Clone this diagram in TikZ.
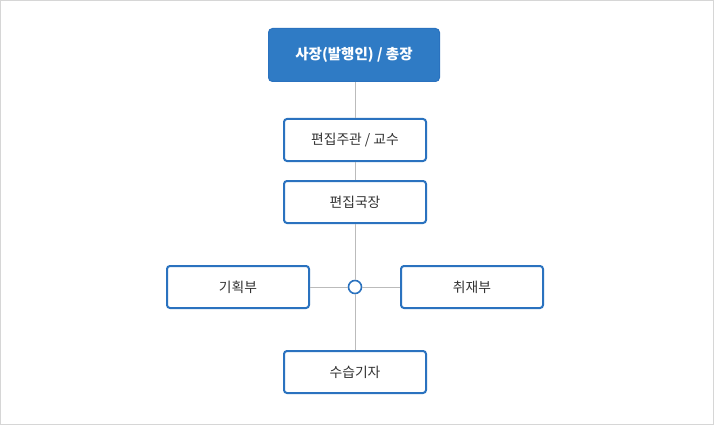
\documentclass[tikz,border=0pt]{standalone}
\usepackage{fontspec}
\setmainfont{Noto Sans CJK KR}
\usetikzlibrary{
  positioning,
  calc,
}
\definecolor{border}{HTML}{2A72BF}
\definecolor{fillTop}{HTML}{2F7BC5}
\definecolor{textMain}{HTML}{333333}
\definecolor{lineCol}{HTML}{BBBBBB}
\definecolor{frameCol}{HTML}{D6D6D6}
\tikzset{
  topbox/.style={
    rectangle, rounded corners=4pt, draw=border, fill=fillTop,
    minimum width=171pt, minimum height=53pt, align=center,
    font=\fontsize{14.5}{16}\selectfont\bfseries, text=white, inner sep=2pt, line width=1pt,
  },
  orgbox/.style={
    rectangle, rounded corners=3pt, draw=border, fill=white,
    minimum width=142pt, minimum height=42pt, align=center,
    font=\fontsize{13.8}{15}\selectfont, text=textMain, inner sep=2pt, line width=2pt,
  },
  hub/.style={
    circle, draw=border, fill=white, minimum size=13pt, inner sep=0pt, line width=1.6pt,
  },
  link/.style={lineCol, line width=1pt},
}
\begin{document}
\begin{tikzpicture}[x=1pt, y=-1pt]

  % frame
  \draw[frameCol, line width=1pt, fill=white] (0.5,0.5) rectangle (713.5,424.5);
  \useasboundingbox (0,0) rectangle (714,425);

  % chain
  \node[topbox] (ceo) at (354, 55) {사장(발행인) / 총장};
  \node[orgbox] (editor) at (355, 140) {편집주관 / 교수};
  \node[orgbox] (chief) at (355, 202) {편집국장};
  \node[hub] (hub) at (355, 287) {};
  \node[orgbox] (plan) at (238, 287) {기획부};
  \node[orgbox] (report) at (472, 287) {취재부};
  \node[orgbox] (intern) at (355, 372) {수습기자};

  \draw[link] (ceo.south -| editor) -- (editor.north);
  \draw[link] (editor) -- (chief);
  \draw[link] (chief) -- (hub);
  \draw[link] (hub) -- (intern);
  \draw[link] (plan) -- (hub);
  \draw[link] (hub) -- (report);

\end{tikzpicture}
\end{document}
